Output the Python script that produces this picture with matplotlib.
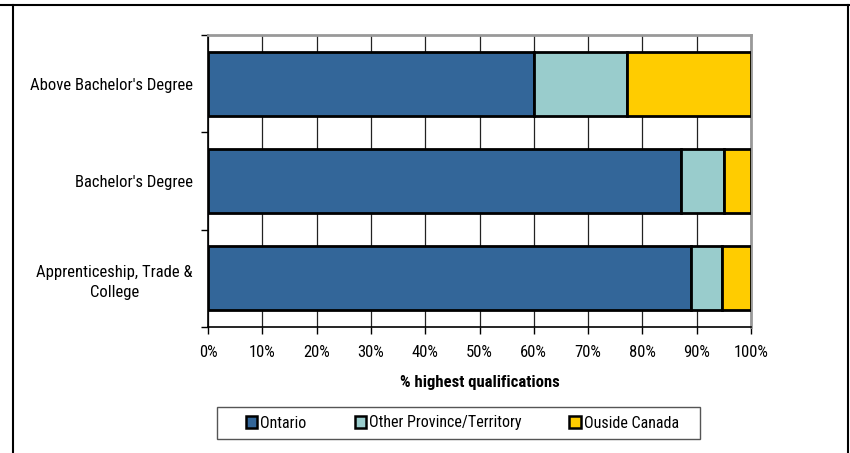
import matplotlib
matplotlib.use('Agg')
import matplotlib.pyplot as plt
from matplotlib.lines import Line2D
from matplotlib.patches import Rectangle, Patch
from matplotlib.ticker import FixedLocator, PercentFormatter

plt.rcParams['font.family'] = ['Roboto Condensed', 'Liberation Sans', 'DejaVu Sans']

# data (bottom to top)
categories = ['Apprenticeship, Trade &\nCollege', "Bachelor's Degree", "Above Bachelor's Degree"]
ontario = [88.9, 87.2, 60.0]
other_prov = [5.8, 7.8, 17.2]
outside = [5.3, 5.0, 22.8]

series_names = ['Ontario', 'Other Province/Territory', 'Ouside Canada']
colors = ['#336699', '#99CCCC', '#FFCC00']

W, H = 850, 453
fig = plt.figure(figsize=(W / 100, H / 100), dpi=100)
ax = fig.add_axes([208 / W, 1 - 327 / H, 543 / W, 292 / H])

pos = list(range(len(categories)))
left = [0] * len(categories)
for vals, name, col in zip([ontario, other_prov, outside], series_names, colors):
    ax.barh(pos, vals, left=left, height=0.66, color=col, edgecolor='black',
            linewidth=2, label=name, zorder=3)
    left = [a + b for a, b in zip(left, vals)]

ax.set_xlim(0, 100)
ax.set_ylim(-0.5, 2.5)
ax.xaxis.set_major_locator(FixedLocator(range(0, 101, 10)))
ax.xaxis.set_major_formatter(PercentFormatter(decimals=0))
ax.grid(axis='x', color='#222222', linewidth=0.9, zorder=0)

# category boundary ticks, labels at the middle
ax.set_yticks([-0.5, 0.5, 1.5, 2.5])
ax.set_yticklabels([])
ax.set_yticks(pos, minor=True)
ax.set_yticklabels(categories, minor=True, fontsize=12, ha='right',
                   multialignment='center', linespacing=1.4)
ax.tick_params(axis='y', which='minor', length=0, pad=11)
ax.tick_params(axis='y', which='major', length=5, width=1)
ax.tick_params(axis='x', length=5, width=1, labelsize=12, pad=8)

for s in ['top', 'right']:
    ax.spines[s].set_color('#999999')
    ax.spines[s].set_linewidth(2)
for s in ['left', 'bottom']:
    ax.spines[s].set_color('black')
    ax.spines[s].set_linewidth(1.2)

ax.set_xlabel('% highest qualifications', fontsize=12, fontweight='bold', labelpad=11)

# legend with its own box
fig.patches.append(Rectangle((217 / W, 1 - 439 / H), 483 / W, 32 / H,
                             transform=fig.transFigure, fill=False,
                             edgecolor='#555555', linewidth=1))
handles = [Patch(facecolor=c, edgecolor='black', linewidth=1.8, label=n)
           for c, n in zip(colors, series_names)]
fig.legend(handles=handles, loc='center left', bbox_to_anchor=(246 / W, 1 - 423 / H),
           ncol=3, frameon=False, fontsize=11.5, borderpad=0, borderaxespad=0,
           handlelength=0.7, handleheight=0.7, handletextpad=0.2,
           columnspacing=3.0)

# outer chart frame
fig.lines.append(Line2D([0, 1], [1 - 4.5 / H] * 2, transform=fig.transFigure,
                        color='black', linewidth=1.5))
for xv in [12.5, 848]:
    fig.lines.append(Line2D([xv / W] * 2, [0, 1 - 4.5 / H], transform=fig.transFigure,
                            color='black', linewidth=1.5))

fig.savefig('out.png', dpi=100)
